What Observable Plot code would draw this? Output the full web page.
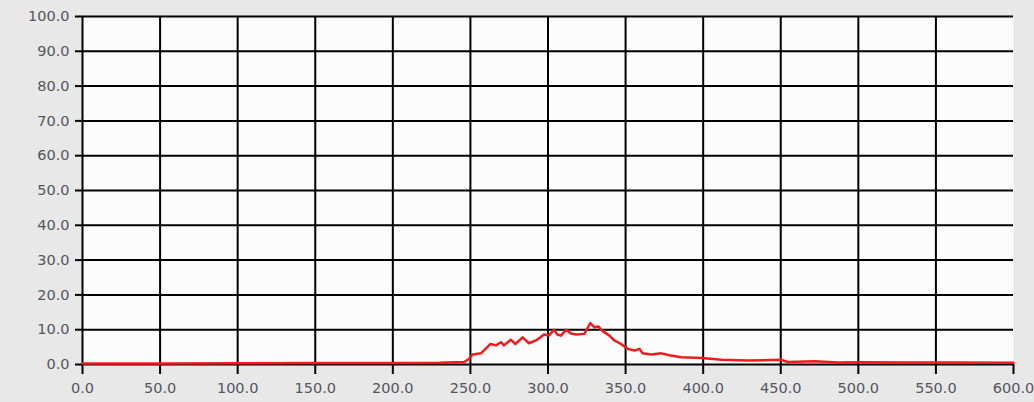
<!DOCTYPE html>
<html>
<head>
<meta charset="utf-8">
<script src="https://cdn.jsdelivr.net/npm/d3@7"></script>
<script src="https://cdn.jsdelivr.net/npm/@observablehq/plot@0.6"></script>
<style>
  html, body { margin: 0; padding: 0; background: #e8e8e8; }
  #chart { width: 1034px; height: 402px; }
</style>
</head>
<body>
<div id="chart"></div>
<script>
const xTicks = [0, 50, 100, 150, 200, 250, 300, 350, 400, 450, 500, 550, 600];
const yTicks = [0, 10, 20, 30, 40, 50, 60, 70, 80, 90, 100];

const xs = [0, 50, 100, 150, 200, 230, 246, 249, 251.4, 256.8, 263, 266.5, 269.7, 271.6, 276, 279, 283.7, 287.7, 293, 297.4, 300.6, 303.9, 306, 308.4, 311.6, 314.8, 318, 323.4, 327.3, 330, 332.5, 335.3, 339.6, 342.8, 347, 351.4, 355.7, 359, 361, 366.5, 373, 379, 386, 399, 412, 429, 450, 454.6, 472, 487, 502, 530, 560, 600];
const ys = [0.3, 0.3, 0.35, 0.4, 0.45, 0.5, 0.7, 1.6, 2.9, 3.2, 5.9, 5.5, 6.4, 5.5, 7.1, 5.9, 7.8, 6.1, 7.1, 8.6, 8.3, 10, 8.6, 8.3, 10, 8.9, 8.6, 8.8, 11.9, 10.7, 10.9, 9.6, 8.3, 6.9, 5.9, 4.5, 4, 4.5, 3.2, 2.9, 3.2, 2.6, 2.1, 1.9, 1.35, 1.15, 1.35, 0.7, 0.95, 0.6, 0.65, 0.6, 0.55, 0.5];

const data = xs.map((x, i) => ({x, y: ys[i]}));
const fmt = d => d.toFixed(1);

const chart = Plot.plot({
  width: 1034,
  height: 402,
  marginLeft: 82,
  marginRight: 21,
  marginTop: 16,
  marginBottom: 38,
  style: {background: "#e8e8e8", fontFamily: "DejaVu Sans", fontSize: "14.5px"},
  x: {domain: [0, 600]},
  y: {domain: [0, 100]},
  marks: [
    Plot.frame({fill: "#fcfcfc", stroke: null}),
    Plot.gridX({ticks: xTicks.filter(d => d > 0 && d < 600), stroke: "#000", strokeOpacity: 1, strokeWidth: 2}),
    Plot.gridY({ticks: yTicks, stroke: "#000", strokeOpacity: 1, strokeWidth: 2}),
    Plot.ruleX([0], {stroke: "#000", strokeWidth: 2}),
    Plot.axisY({ticks: yTicks, tickFormat: fmt, tickSize: 7, tickPadding: 6, stroke: "#000", strokeWidth: 2, fill: "#555560", label: null}),
    Plot.axisX({ticks: xTicks, tickFormat: fmt, tickSize: 10, tickPadding: 8, stroke: "#000", strokeWidth: 2, fill: "#555560", label: null}),
    Plot.line(data, {x: "x", y: "y", stroke: "#ee1c1c", strokeWidth: 2.5, strokeLinejoin: "round"})
  ]
});
document.getElementById("chart").append(chart);
</script>
</body>
</html>
